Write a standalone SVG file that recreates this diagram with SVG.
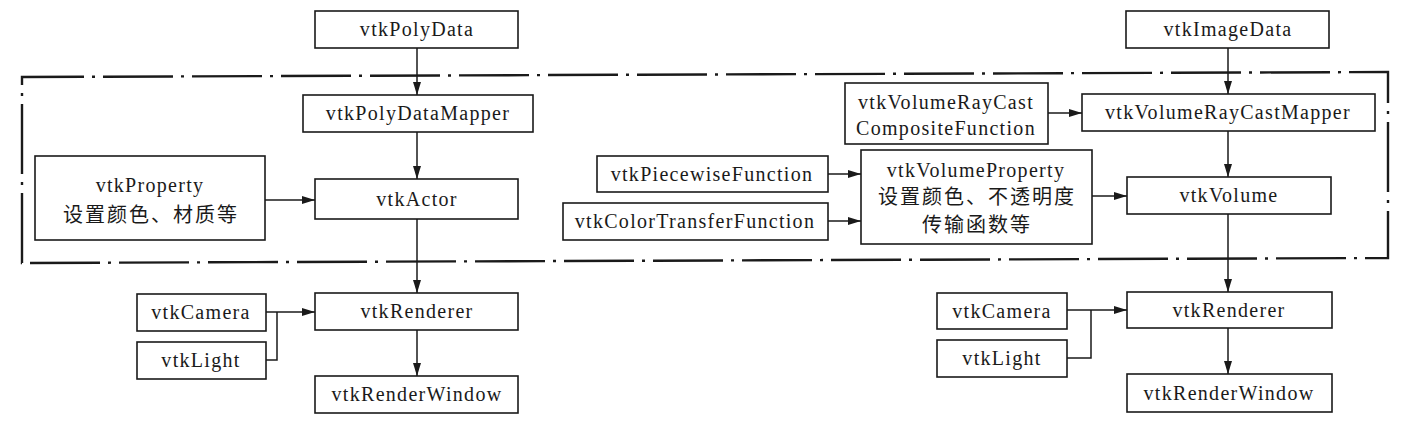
<svg xmlns="http://www.w3.org/2000/svg" width="1421" height="431" viewBox="0 0 1421 431">
<style>
.box{fill:#fff;stroke:#1a1a1a;stroke-width:1.6}
.t{font-family:"Liberation Serif","Noto Sans CJK SC",serif;font-size:20px;letter-spacing:1.3px;fill:#1a1a1a;text-anchor:middle}
.c{font-family:"Noto Sans CJK SC","Liberation Serif",sans-serif;font-size:20px;letter-spacing:2px;fill:#1a1a1a;text-anchor:middle}
.ln{fill:none;stroke:#1a1a1a;stroke-width:1.5}
.dd{fill:none;stroke:#1a1a1a;stroke-width:2.4;stroke-dasharray:70 8 3 8}
</style>
<defs>
<marker id="ah" markerUnits="userSpaceOnUse" markerWidth="14" markerHeight="9" refX="13" refY="4" orient="auto">
<path d="M0,0 L13,4 L0,8 z" fill="#1a1a1a"/>
</marker>
</defs>
<rect width="1421" height="431" fill="#fff"/>
<path class="dd" d="M22,263 L22,77 L1388,72 L1388,258 Z"/>
<g id="connectors">
<path class="ln" d="M417,48 V95" marker-end="url(#ah)"/>
<path class="ln" d="M417,132 V179" marker-end="url(#ah)"/>
<path class="ln" d="M417,219 V293" marker-end="url(#ah)"/>
<path class="ln" d="M417,330 V376" marker-end="url(#ah)"/>
<path class="ln" d="M265,200 H315" marker-end="url(#ah)"/>
<path class="ln" d="M266,312 H315" marker-end="url(#ah)"/>
<path class="ln" d="M266,360 H277 V312"/>
<path class="ln" d="M1228,48 V94" marker-end="url(#ah)"/>
<path class="ln" d="M1228,131 V177" marker-end="url(#ah)"/>
<path class="ln" d="M1228,214 V292" marker-end="url(#ah)"/>
<path class="ln" d="M1228,328 V374" marker-end="url(#ah)"/>
<path class="ln" d="M1048,113 H1082" marker-end="url(#ah)"/>
<path class="ln" d="M828,174 H861" marker-end="url(#ah)"/>
<path class="ln" d="M828,221 H861" marker-end="url(#ah)"/>
<path class="ln" d="M1092,196 H1127" marker-end="url(#ah)"/>
<path class="ln" d="M1067,310 H1127" marker-end="url(#ah)"/>
<path class="ln" d="M1067,358 H1091 V310"/>
</g>
<g id="polydata"><rect class="box" x="315" y="11" width="203" height="37"/><text class="t" x="417" y="36">vtkPolyData</text></g>
<g id="polymapper"><rect class="box" x="303" y="95" width="230" height="37"/><text class="t" x="418" y="120">vtkPolyDataMapper</text></g>
<g id="property"><rect class="box" x="35" y="156" width="230" height="84"/><text class="t" x="150" y="192">vtkProperty</text><text class="c" x="151" y="222">设置颜色、材质等</text></g>
<g id="actor"><rect class="box" x="315" y="179" width="203" height="40"/><text class="t" x="417" y="206">vtkActor</text></g>
<g id="renderer-l"><rect class="box" x="315" y="293" width="203" height="37"/><text class="t" x="417" y="318">vtkRenderer</text></g>
<g id="camera-l"><rect class="box" x="137" y="294" width="129" height="37"/><text class="t" x="201" y="319">vtkCamera</text></g>
<g id="light-l"><rect class="box" x="137" y="342" width="129" height="37"/><text class="t" x="201" y="367">vtkLight</text></g>
<g id="renderwindow-l"><rect class="box" x="315" y="376" width="203" height="37"/><text class="t" x="417" y="401">vtkRenderWindow</text></g>
<g id="imagedata"><rect class="box" x="1126" y="11" width="203" height="37"/><text class="t" x="1228" y="36">vtkImageData</text></g>
<g id="composite"><rect class="box" x="845" y="83" width="203" height="61"/><text class="t" x="946" y="109">vtkVolumeRayCast</text><text class="t" x="946" y="135">CompositeFunction</text></g>
<g id="volmapper"><rect class="box" x="1082" y="94" width="293" height="37"/><text class="t" x="1228" y="119">vtkVolumeRayCastMapper</text></g>
<g id="piecewise"><rect class="box" x="597" y="156" width="231" height="36"/><text class="t" x="712" y="181">vtkPiecewiseFunction</text></g>
<g id="colortf"><rect class="box" x="563" y="203" width="265" height="37"/><text class="t" x="695" y="228">vtkColorTransferFunction</text></g>
<g id="volproperty"><rect class="box" x="861" y="150" width="231" height="94"/><text class="t" x="976" y="177">vtkVolumeProperty</text><text class="c" x="977" y="204">设置颜色、不透明度</text><text class="c" x="977" y="232">传输函数等</text></g>
<g id="volume"><rect class="box" x="1127" y="177" width="204" height="37"/><text class="t" x="1229" y="202">vtkVolume</text></g>
<g id="renderer-r"><rect class="box" x="1127" y="292" width="205" height="36"/><text class="t" x="1229" y="317">vtkRenderer</text></g>
<g id="camera-r"><rect class="box" x="937" y="293" width="130" height="36"/><text class="t" x="1002" y="318">vtkCamera</text></g>
<g id="light-r"><rect class="box" x="937" y="340" width="130" height="37"/><text class="t" x="1002" y="365">vtkLight</text></g>
<g id="renderwindow-r"><rect class="box" x="1127" y="374" width="205" height="38"/><text class="t" x="1229" y="400">vtkRenderWindow</text></g>
</svg>
